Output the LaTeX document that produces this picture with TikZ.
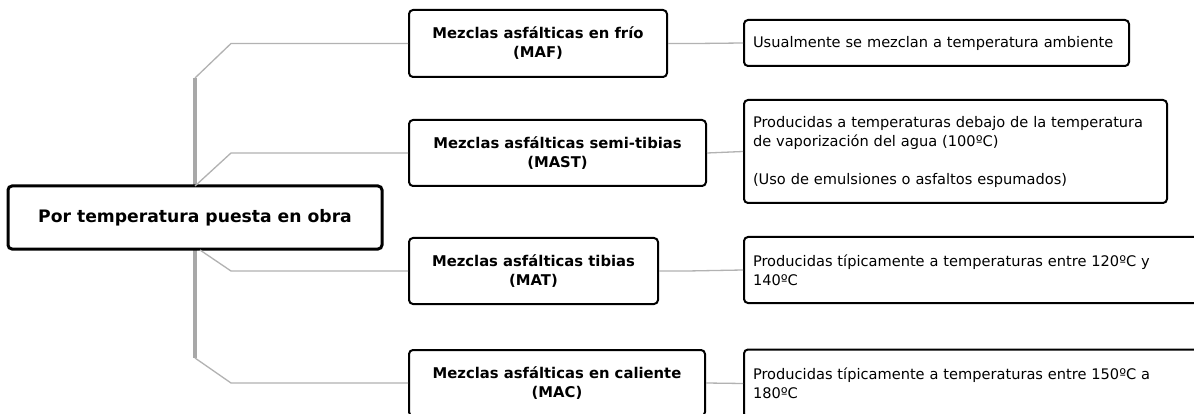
\documentclass[tikz,border=0pt]{standalone}
\usepackage{fontspec}
\setmainfont{DejaVu Sans}
\definecolor{linkgray}{RGB}{178,178,178}
\definecolor{trunkgray}{RGB}{168,168,168}
\begin{document}
\begin{tikzpicture}[x=1pt,y=-1pt,
  box/.style={draw=black, rounded corners=4pt, line width=2pt, fill=white, inner sep=0pt},
  rootbox/.style={box, line width=3pt, font=\bfseries\fontsize{17.2}{20}\selectfont, minimum width=374pt, minimum height=63pt},
  catbox/.style={box, font=\bfseries\fontsize{14.8}{19}\selectfont, align=center, minimum height=66pt},
  descbox/.style={box, font=\fontsize{14.6}{19}\selectfont, align=left, inner xsep=9pt, anchor=west},
  link/.style={draw=linkgray, line width=1.3pt, line join=round},
  trunk/.style={draw=trunkgray, line width=4pt}
]
\clip (0,0) rectangle (1194,414);
\fill[white] (0,0) rectangle (1194,414);

% junction helpers
\coordinate (tt) at (195,78);
\coordinate (tb) at (195,358);
\coordinate (j) at (231,0);
\coordinate (s2) at (195,186);
\coordinate (s3) at (200,250);

% trunk (behind nodes)
\draw[trunk] (tt) -- (tb);

% nodes
\node[rootbox] (root) at (195,217.5) {Por temperatura puesta en obra};

\node[catbox, minimum width=258pt, minimum height=67pt] (maf) at (538,43.5) {Mezclas asfálticas en frío\\(MAF)};
\node[catbox, minimum width=297pt] (mast) at (557.5,153) {Mezclas asfálticas semi-tibias\\(MAST)};
\node[catbox, minimum width=249pt] (mat) at (533.5,271) {Mezclas asfálticas tibias\\(MAT)};
\node[catbox, minimum width=296pt] (mac) at (557,383) {Mezclas asfálticas en caliente\\(MAC)};

\node[descbox, text width=367pt, minimum height=46pt] (d1) at (743,43) {Usualmente se mezclan a temperatura ambiente};
\node[descbox, text width=405pt, minimum height=103pt] (d2) at (743,151.5) {Producidas a temperaturas debajo de la temperatura\\de vaporización del agua (100ºC)\\[19pt](Uso de emulsiones o asfaltos espumados)};
\node[descbox, text width=460pt, minimum height=66pt] (d3) at (743,270) {Producidas típicamente a temperaturas entre 120ºC y\\140ºC};
\node[descbox, text width=460pt, minimum height=68pt] (d4) at (743,383.5) {Producidas típicamente a temperaturas entre 150ºC a\\180ºC};

% branches from trunk to categories
\draw[link] (tt) -- (maf.west -| j) -- (maf.west);
\draw[link] (s2) -- (mast.west -| j) -- (mast.west);
\draw[link] (s3) -- (mat.west -| j) -- (mat.west);
\draw[link] (tb) -- (mac.west -| j) -- (mac.west);

% category to description
\draw[link] (maf.east) -- ++(28,0) -- (d1.west);
\draw[link] (mast.east) -- (d2.west);
\draw[link] (mat.east) -- ++(28,0) -- (d3.west);
\draw[link] (mac.east) -- (d4.west);
\end{tikzpicture}
\end{document}
